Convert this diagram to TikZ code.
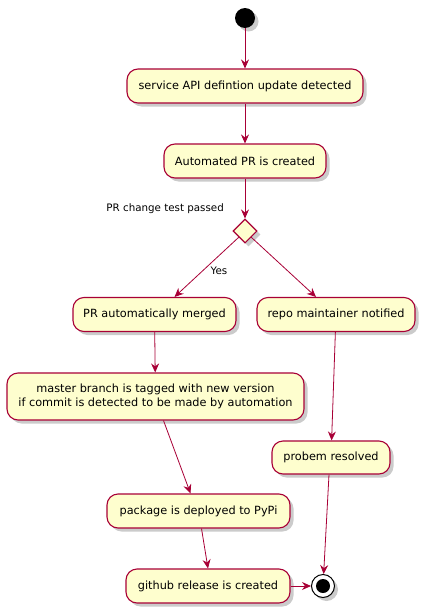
\documentclass[tikz,border=0pt]{standalone}
\usepackage{fontspec}
\setmainfont{DejaVu Sans}
\usetikzlibrary{arrows.meta,shadows,shapes.geometric}
\definecolor{umlfill}{HTML}{FEFECE}
\definecolor{umlline}{HTML}{A80036}
\begin{document}
\begin{tikzpicture}[x=1pt,y=-1pt,
  shad/.style={drop shadow={shadow xshift=3.5pt,shadow yshift=-3.5pt,fill=black!45,opacity=0.45}},
  act/.style={draw=umlline,fill=umlfill,line width=1.1pt,rounded corners=11pt,minimum height=34pt,inner sep=0pt,align=center,font=\fontsize{11.3}{14}\selectfont,shad},
  lab/.style={font=\fontsize{10.3}{12}\selectfont,inner sep=0pt},
  flow/.style={draw=umlline,line width=0.8pt,-{Stealth[length=9pt,width=8pt,inset=3pt]}}]
\useasboundingbox (0,0) rectangle (425,613);
\node[circle,fill=black,minimum size=20pt,inner sep=0pt,shad] (start) at (245,18) {};
\node[act,minimum width=236pt] (b1) at (245,86) {service API defintion update detected};
\node[act,minimum width=162pt] (b2) at (245,161) {Automated PR is created};
\node[diamond,draw=umlline,fill=umlfill,line width=1.1pt,minimum width=24pt,minimum height=24pt,inner sep=0pt,shad] (dec) at (245,231) {};
\node[lab,anchor=east] (cond) at (224,209) {PR change test passed};
\node[act,minimum width=163pt] (b3) at (154.5,314.5) {PR automatically merged};
\node[act,minimum width=158pt] (b4) at (336,314.5) {repo maintainer notified};
\node[act,minimum width=297pt,minimum height=47pt] (b5) at (155.5,396.5) {master branch is tagged with new version\\if commit is detected to be made by automation};
\node[act,minimum width=118pt,minimum height=33pt] (b6) at (331,457.5) {probem resolved};
\node[act,minimum width=183pt] (b7) at (198.5,511) {package is deployed to PyPi};
\node[act,minimum width=164pt] (b8) at (208,586) {github release is created};
\node[circle,draw=black,fill=white,line width=1pt,minimum size=23pt,inner sep=0pt,shad] (stop) at (323,586) {};
\node[circle,fill=black,minimum size=14pt,inner sep=0pt] (stopin) at (stop) {};
\node[lab] (yes) at (219,271) {Yes};
\draw[flow] (start) -- (b1);
\draw[flow] (b1) -- (b2);
\draw[flow] (b2) -- (dec);
\draw[flow] (dec.south west) -- ([xshift=20pt]b3.north);
\draw[flow] (dec.south east) -- ([xshift=-20pt]b4.north);
\draw[flow] (b3) -- (b5);
\draw[flow] ([xshift=8pt]b5.south) -- ([xshift=-8pt]b7.north);
\draw[flow] (b4) -- (b6);
\draw[flow] ([xshift=3pt]b7.south) -- (b8.north);
\draw[flow] ([xshift=-2pt]b6.south) -- (stop);
\draw[flow] (b8) -- (stop);
\end{tikzpicture}
\end{document}
